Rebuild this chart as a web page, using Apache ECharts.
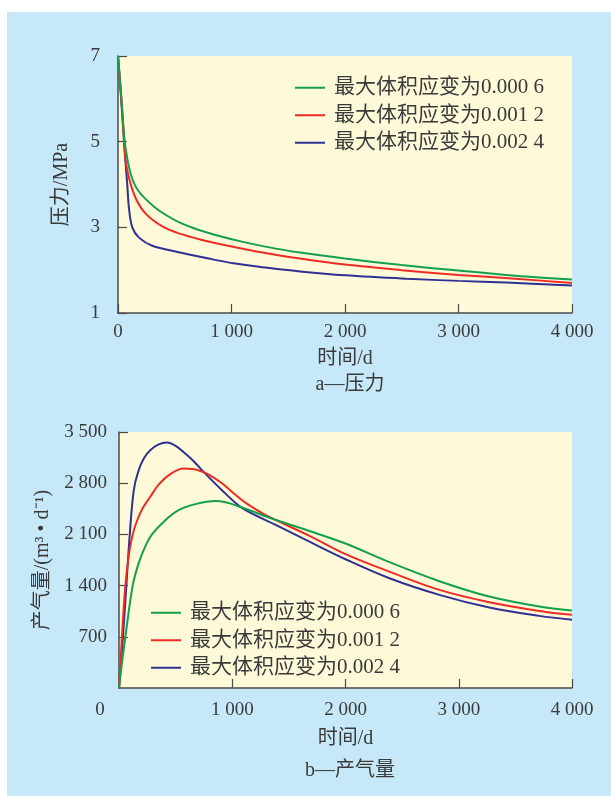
<!DOCTYPE html>
<html lang="zh">
<head>
<meta charset="UTF-8">
<title>压力与产气量</title>
<script src="https://cdn.jsdelivr.net/npm/echarts@6/dist/echarts.min.js"></script>
<style>
  html, body { margin: 0; padding: 0; background: #fff; }
  #main { width: 611px; height: 796px; }
</style>
</head>
<body>
<div id="main"></div>
<script type="text/javascript">
// 图例名称
var seriesNames = ['最大体积应变为0.000 6', '最大体积应变为0.001 2', '最大体积应变为0.002 4'];
var seriesColors = ['#13a04a', '#ee2b24', '#2e3192'];

// 刻度标签
var xTickLabels = ['0', '1 000', '2 000', '3 000', '4 000'];
var pTickLabels = ['1', '', '3', '', '5', '', '7'];
var qTickLabels = ['0', '700', '1 400', '2 100', '2 800', '3 500'];

// a—压力 [时间/d, 压力/MPa]
var pressure0006 = [[0,7],[30,6.0],[59,5.0],[97,4.4],[125,4.14],[156,3.95],[195,3.8],[240,3.67],[310,3.5],[391,3.34],[536,3.12],[700,2.95],[917,2.78],[1100,2.66],[1300,2.55],[1604,2.41],[2000,2.27],[2500,2.12],[3000,1.99],[3500,1.87],[4000,1.78]];
var pressure0012 = [[0,7],[30,6.0],[55,5.0],[65,4.6],[97,4.15],[156,3.68],[244,3.32],[391,3.02],[536,2.86],[750,2.70],[917,2.60],[1100,2.50],[1300,2.40],[1604,2.27],[2000,2.13],[2500,2.0],[3000,1.89],[3500,1.80],[4000,1.70]];
var pressure0024 = [[0,7],[25,6.1],[53,5.0],[70,4.4],[82,3.98],[97,3.44],[126,3.0],[185,2.76],[302,2.57],[536,2.42],[800,2.27],[1017,2.16],[1300,2.06],[1604,1.97],[2000,1.88],[2543,1.8],[3000,1.75],[3423,1.71],[4000,1.64]];

// b—产气量 [时间/d, 产气量/(m3/d)]
var gas0006 = [[0,0],[26,340],[56,700],[121,1400],[173,1704],[230,1930],[291,2100],[409,2295],[527,2432],[674,2514],[850,2555],[950,2535],[1035,2495],[1152,2430],[1388,2296],[1682,2146],[2000,1975],[2388,1720],[2829,1460],[3270,1250],[3711,1113],[4000,1059]];
var gas0012 = [[0,0],[26,700],[56,1400],[90,1850],[121,2100],[160,2290],[210,2460],[276,2614],[350,2780],[453,2925],[571,3000],[650,2995],[732,2960],[800,2910],[909,2800],[1000,2680],[1093,2560],[1200,2450],[1299,2360],[1682,2080],[2000,1830],[2388,1591],[2829,1341],[3270,1173],[3711,1054],[4000,1000]];
var gas0024 = [[0,0],[35,700],[65,1400],[95,2100],[130,2700],[170,2960],[220,3140],[276,3250],[350,3330],[424,3356],[500,3310],[585,3205],[660,3100],[732,2978],[909,2705],[1093,2455],[1388,2228],[1682,2000],[2000,1760],[2388,1500],[2829,1273],[3270,1100],[3711,986],[4000,932]];

var myChart = echarts.init(document.getElementById('main'));

var font = '"Liberation Serif", "Noto Sans CJK SC", serif';
var axisColor = '#4a4a4a';
var textColor = '#3a3a3a';

function xAxisOf(gridIndex, margin, nameGap) {
    return {
        type: 'value', gridIndex: gridIndex,
        min: 0, max: 4000, interval: 1000,
        name: '时间/d', nameLocation: 'middle', nameGap: nameGap,
        nameTextStyle: { fontFamily: font, fontSize: 20, color: textColor },
        axisLine: { show: true, lineStyle: { color: axisColor, width: 1.5 } },
        axisTick: { show: true, inside: true, length: 9, lineStyle: { color: axisColor, width: 1.2 } },
        splitLine: { show: false },
        axisLabel: {
            margin: margin, fontFamily: font, fontSize: 19, color: textColor,
            formatter: function (v) {
                var s = xTickLabels[Math.round(v / 1000)];
                // 下图原点 0 放在左下角
                if (gridIndex === 1 && v === 0) return '{o|' + s + '}';
                return s;
            },
            rich: { o: { fontFamily: font, fontSize: 19, color: textColor, padding: [0, 38, 0, 0] } }
        }
    };
}

function yAxisOf(gridIndex, min, max, interval, labels, name, nameGap, margin, showMin) {
    return {
        type: 'value', gridIndex: gridIndex,
        min: min, max: max, interval: interval,
        name: name, nameLocation: 'middle', nameGap: nameGap,
        nameTextStyle: { fontFamily: font, fontSize: 20, color: textColor },
        axisLine: { show: true, lineStyle: { color: axisColor, width: 1.5 } },
        axisTick: { show: true, inside: true, length: 9, lineStyle: { color: axisColor, width: 1.2 } },
        splitLine: { show: false },
        axisLabel: {
            margin: margin, fontFamily: font, fontSize: 19, color: textColor,
            showMinLabel: showMin,
            formatter: function (v) {
                return labels[Math.round((v - min) / (gridIndex === 0 ? 1 : interval))];
            }
        }
    };
}

function lineOf(i, data, xi, yi) {
    return {
        name: seriesNames[i], type: 'line',
        xAxisIndex: xi, yAxisIndex: yi,
        data: data, symbol: 'none',
        smooth: 0.35,
        lineStyle: { color: seriesColors[i], width: 2 },
        itemStyle: { color: seriesColors[i] },
        z: 3 - i
    };
}

function legendOf(left, top) {
    return {
        left: left, top: top, orient: 'vertical',
        icon: 'rect', itemWidth: 30, itemHeight: 2, itemGap: 0,
        selectedMode: false,
        textStyle: { fontFamily: font, fontSize: 21, color: textColor, lineHeight: 27.5, padding: [0, 0, 0, 4] },
        data: seriesNames
    };
}

var option = {
    backgroundColor: '#ffffff',
    animation: false,
    graphic: [{
        type: 'rect', z: -10, silent: true,
        shape: { x: 7, y: 12, width: 604, height: 784 },
        style: { fill: '#c6e8f8' }
    }],
    title: [
        { text: 'a—压力', left: 345, top: 370, textAlign: 'center',
          textStyle: { fontFamily: font, fontSize: 20, fontWeight: 'normal', color: textColor } },
        { text: 'b—产气量', left: 345, top: 756, textAlign: 'center',
          textStyle: { fontFamily: font, fontSize: 20, fontWeight: 'normal', color: textColor } }
    ],
    legend: [
        legendOf(290, 69),
        legendOf(146, 594)
    ],
    grid: [
        { left: 118, top: 56, width: 454, height: 257, show: true, backgroundColor: '#fef9d8', borderWidth: 0 },
        { left: 119, top: 432, width: 453, height: 256, show: true, backgroundColor: '#fef9d8', borderWidth: 0 }
    ],
    xAxis: [xAxisOf(0, 10, 36), xAxisOf(1, 13, 41)],
    yAxis: [
        yAxisOf(0, 1, 7, 2, pTickLabels, '压力/MPa', 46, 18, true),
        yAxisOf(1, 0, 3500, 700, qTickLabels, '产气量/(m³ • d⁻¹)', 66, 12, false)
    ],
    series: [
        lineOf(0, pressure0006, 0, 0),
        lineOf(1, pressure0012, 0, 0),
        lineOf(2, pressure0024, 0, 0),
        lineOf(0, gas0006, 1, 1),
        lineOf(1, gas0012, 1, 1),
        lineOf(2, gas0024, 1, 1)
    ]
};

myChart.setOption(option);
</script>
</body>
</html>
